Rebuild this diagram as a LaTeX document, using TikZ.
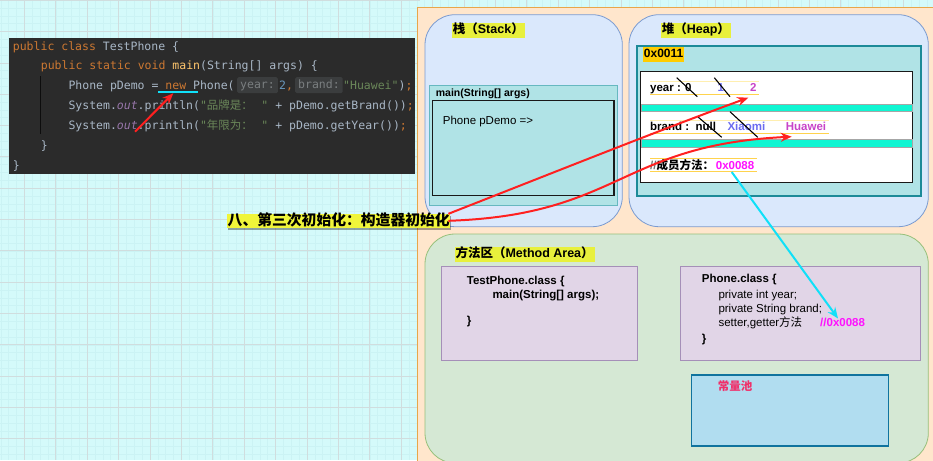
\documentclass[tikz,border=0pt]{standalone}
\usepackage{fontspec}
\setmainfont{Liberation Sans}
\setmonofont{DejaVu Sans Mono}
\newfontfamily\zhfont{Noto Sans CJK SC}
\newcommand\zh[1]{{\zhfont #1}}
\usetikzlibrary{arrows.meta,shadows}
\definecolor{bgc}{HTML}{D4FAFA}
\definecolor{gmin}{HTML}{CBF3F4}
\definecolor{gmaj}{HTML}{D0DDDE}
\definecolor{peach}{HTML}{FFE6CC}
\definecolor{peachd}{HTML}{E8A64A}
\definecolor{bluef}{HTML}{DAE8FC}
\definecolor{blued}{HTML}{7B9BD0}
\definecolor{greenf}{HTML}{D5E8D4}
\definecolor{greend}{HTML}{97C07A}
\definecolor{tealf}{HTML}{B0E3E6}
\definecolor{teald}{HTML}{1C8A98}
\definecolor{tealm}{HTML}{66B8C0}
\definecolor{band}{HTML}{10F5D2}
\definecolor{purf}{HTML}{E1D5E7}
\definecolor{purd}{HTML}{A58FB8}
\definecolor{poolf}{HTML}{B1DDF0}
\definecolor{poold}{HTML}{10739E}
\definecolor{hly}{HTML}{E8F03C}
\definecolor{hlo}{HTML}{FFCC00}
\definecolor{hlbig}{HTML}{F0F53A}
\definecolor{uline}{HTML}{FFD34D}
\definecolor{ulinef}{HTML}{FFEFB0}
\definecolor{codebg}{HTML}{2B2B2B}
\definecolor{codefg}{HTML}{A9B7C6}
\definecolor{kwc}{HTML}{CC7832}
\definecolor{fnc}{HTML}{FFC66D}
\definecolor{outc}{HTML}{9876AA}
\definecolor{strc}{HTML}{6A8759}
\definecolor{numc}{HTML}{6897BB}
\definecolor{hintbg}{HTML}{3B3D3E}
\definecolor{hintfg}{HTML}{7A7E80}
\definecolor{arrred}{HTML}{FF2020}
\definecolor{arrcyan}{HTML}{10E0F8}
\definecolor{blu1}{HTML}{6B6BF0}
\definecolor{pur1}{HTML}{C844C8}
\definecolor{mag}{HTML}{FF10FF}
\definecolor{poolt}{HTML}{F0306A}
\newcommand\kw[1]{\textcolor{kwc}{#1}}
\newcommand\str[1]{\textcolor{strc}{#1}}
\begin{document}
\begin{tikzpicture}[x=1pt,y=-1pt,
  gminor/.style={draw=gmin,line width=0.4pt},
  gmajor/.style={draw=gmaj,line width=0.6pt},
  lbl/.style={inner sep=0pt,anchor=base west,font=\fontsize{11.5}{13}\selectfont},
  blbl/.style={inner sep=0pt,anchor=base west,font=\fontsize{11.5}{13}\selectfont\bfseries},
  code/.style={inner sep=0pt,anchor=base west,text=codefg,font=\fontsize{11.5}{13}\selectfont\ttfamily},
  hint/.style={anchor=west,fill=hintbg,text=hintfg,rounded corners=1.5pt,inner xsep=3pt,inner ysep=2.5pt,text height=8.5pt,text depth=2.5pt,font=\fontsize{11.5}{13}\selectfont\ttfamily},
  sect/.style={anchor=west,fill=hly,inner xsep=1pt,inner ysep=1.5pt,text height=9pt,text depth=2.5pt,font=\fontsize{12.5}{14}\selectfont\bfseries},
  region/.style={rounded corners=30pt,line width=0.8pt},
  redarrow/.style={draw=arrred,line width=2pt,-{Stealth[length=11pt,width=9pt]}},
  cyanarrow/.style={draw=arrcyan,line width=2pt,-{Stealth[length=11pt,width=9pt]}},
  strike/.style={draw=black,line width=1.1pt},
  uln/.style={draw=uline,line width=1pt},
  ulnf/.style={draw=ulinef,line width=0.8pt}]
\useasboundingbox (0,0) rectangle (933,460);
% background grid
\fill[bgc] (0,0) rectangle (933,460);
\foreach \i in {0,...,120} \draw[gminor] ({0.75+7.85*\i},0) -- ({0.75+7.85*\i},460);
\foreach \j in {0,...,60} \draw[gminor] (0,{0.2+7.83*\j}) -- (420,{0.2+7.83*\j});
\foreach \i in {0,...,29} \draw[gmajor] ({24.3+31.4*\i},0) -- ({24.3+31.4*\i},460);
\foreach \j in {0,...,15} \draw[gmajor] (0,{0.2+31.3*\j}) -- (420,{0.2+31.3*\j});
% peach panel
\draw[fill=peach,draw=peachd,line width=0.8pt] (417.3,7) rectangle (945,470);
% code box
\fill[codebg] (9,38.3) rectangle (415,174);
\draw[draw=black!70!codebg,line width=0.6pt] (40.5,76) -- (40.5,134);
\node[code] (c1) at (12.7,50) {\kw{public class} TestPhone \{};
\node[code] (c2) at (40.7,69.7) {\kw{public static void} \textcolor{fnc}{main}(String[] args) \{};
\node[code] (c3a) at (68.3,89.7) {Phone pDemo = \kw{new} Phone(};
\node[hint] (h1) at (237,85.2) {year:};
\node[code] (c3b) at (279,89.7) {\textcolor{numc}{2}\kw{,}};
\node[hint] (h2) at (295,85.2) {brand:};
\node[code] (c3c) at (343,89.7) {\str{"Huawei"})\kw{;}};
\node[code] (c4) at (68.3,109.3) {System.\textcolor{outc}{\itshape out}.println(\str{"\makebox[54.5pt][l]{\zh{品牌是：}}"} + pDemo.getBrand())\kw{;}};
\node[code] (c5) at (68.3,129.5) {System.\textcolor{outc}{\itshape out}.println(\str{"\makebox[54.5pt][l]{\zh{年限为：}}"} + pDemo.getYear())\kw{;}};
\node[code] (c6) at (40.7,149) {\}};
\node[code] (c7) at (12.7,169) {\}};
\draw[draw=arrcyan,line width=2pt] (158,92.3) -- (198,92.3);
\coordinate (ca1) at (135,131.7);
\coordinate (ca2) at (173.3,93.3);
\draw[redarrow] (ca1) -- (ca2);
% stack
\draw[region,fill=bluef,draw=blued] (425,14.7) rectangle (622.3,226.7);
\node[sect] (stk) at (451.7,30.5) {\zh{栈（}Stack\zh{）}};
\draw[fill=tealf,draw=tealm,line width=1pt] (429.3,85.3) rectangle (617.7,205.7);
\node[inner sep=0pt,anchor=base west,font=\fontsize{10.5}{12}\selectfont\bfseries] (mainl) at (435.7,96.7) {main(String[] args)};
\draw[fill=tealf,draw=black!90,line width=1.5pt] (432.3,100.7) rectangle (614,195.3);
\node[lbl] (pd) at (442.7,124) {Phone pDemo =>};
% heap
\draw[region,fill=bluef,draw=blued] (629,14.7) rectangle (928.3,226.7);
\node[sect] (hp) at (660.7,30.5) {\zh{堆（}Heap\zh{）}};
\draw[fill=tealf,draw=teald,line width=1.8pt] (636.7,45.7) rectangle (920.7,195.7);
\node[sect,fill=hlo,font=\fontsize{12}{14}\selectfont\bfseries] (addr) at (642.7,54.3) {0x0011};
\draw[fill=white,draw=black!90,line width=1.5pt] (640.7,71.7) rectangle (912.7,182.3);
\draw[fill=band,draw=black!35,line width=0.5pt] (641.5,104) rectangle (912,111.7);
\draw[fill=band,draw=black!35,line width=0.5pt] (641.5,139.3) rectangle (912,147.3);
% heap fields
\draw[ulnf] (650,81.7) -- (759,81.7);
\draw[uln] (650,94.3) -- (759,94.3);
\node[blbl] (y0) at (650,91.7) {year : 0};
\node[blbl,text=blu1] (y1) at (717.5,91.7) {1};
\node[blbl,text=pur1] (y2) at (750,91.7) {2};
\draw[strike] (676.7,77.7) -- (697.3,96.7);
\draw[strike] (714.3,77.7) -- (730,96.7);
\draw[ulnf] (650,120) -- (829.3,120);
\draw[uln] (650,133.3) -- (829.3,133.3);
\node[blbl] (b0) at (650,130.7) {brand :\ \ null};
\node[blbl,text=blu1] (b1) at (727.3,130.7) {Xiaomi};
\node[blbl,text=pur1] (b2) at (785.7,130.7) {Huawei};
\draw[strike] (697.7,116.7) -- (721.7,137.3);
\draw[strike] (730,111.7) -- (757.7,137.3);
\draw[uln] (650,158.3) -- (757,158.3);
\draw[uln] (650,171.7) -- (757,171.7);
\node[blbl] (m0) at (650,169.7) {\textcolor{black!55}{//}\zh{成员方法：}};
\node[blbl,text=mag] (m1) at (715.7,169.7) {0x0088};
% method area
\draw[region,fill=greenf,draw=greend] (425,234) rectangle (928.3,463);
\node[sect] (ma) at (454.3,254.5) {\zh{方法区（}Method Area\zh{）}};
\draw[fill=purf,draw=purd,line width=1pt] (441,266) rectangle (637.7,360);
\node[blbl] (t1) at (466.7,284) {TestPhone.class \{};
\node[blbl] (t2) at (492.3,298.3) {main(String[] args);};
\node[blbl] (t3) at (466.7,324) {\}};
\draw[fill=purf,draw=purd,line width=1pt] (680.7,266) rectangle (920.7,360);
\node[blbl] (p1) at (701.7,282.3) {Phone.class \{};
\node[lbl] (p2) at (718.3,298.3) {private int year;};
\node[lbl] (p3) at (718.3,312.7) {private String brand;};
\node[lbl] (p4) at (718.3,326.7) {setter,getter\zh{方法}};
\node[blbl,text=mag] (p5) at (820,326.7) {//0x0088};
\node[blbl] (p6) at (701.7,342.3) {\}};
\draw[fill=poolf,draw=poold,line width=1.5pt] (691.7,375) rectangle (888.7,446);
\node[inner sep=0pt,anchor=base west,text=poolt,font=\fontsize{11.5}{13}\selectfont\bfseries] (cp) at (717.7,390.5) {\zh{常量池}};
% big label
\node[anchor=west,fill=hlbig,inner xsep=0.5pt,inner ysep=0pt,text height=11.8pt,text depth=1.8pt,
  font=\fontsize{14.8}{16}\selectfont\bfseries,
  drop shadow={shadow xshift=1pt,shadow yshift=-2pt,opacity=0.35,fill=black}] (lab) at (227,220.8) {\zh{八、第三次初始化：构造器初始化}};
% arrows
\coordinate (t2a) at (748.3,97.7);
\coordinate (t2b) at (791.7,136.7);
\draw[redarrow] ([yshift=7pt,xshift=-2pt]lab.east) .. controls (560,170) and (660,130) .. (t2a);
\draw[redarrow] ([xshift=-2pt]lab.east) .. controls (620,215) and (620,145) .. (t2b);
\coordinate (cy1) at (731.7,172);
\coordinate (cy2) at (838,318.5);
\draw[cyanarrow] (cy1) -- (cy2);
\end{tikzpicture}
\end{document}
